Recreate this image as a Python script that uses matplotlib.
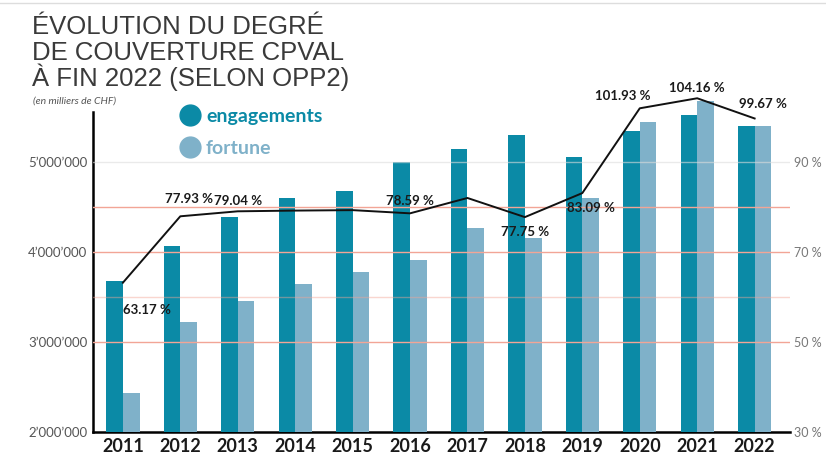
import matplotlib
matplotlib.use("Agg")
import matplotlib.pyplot as plt
import numpy as np
from matplotlib.ticker import FuncFormatter
from matplotlib.lines import Line2D

years = ["2011", "2012", "2013", "2014", "2015", "2016", "2017", "2018", "2019", "2020", "2021", "2022"]
engagements = [3678000, 4067000, 4389000, 4600000, 4678000, 5000000, 5144000, 5300000, 5056000, 5344000, 5522000, 5400000]
fortune = [2433000, 3222000, 3456000, 3644000, 3778000, 3911000, 4267000, 4156000, 4600000, 5444000, 5678000, 5400000]
couverture = [63.17, 77.93, 79.04, 79.2, 79.3, 78.59, 82.0, 77.75, 83.09, 101.93, 104.16, 99.67]
labels = ["63.17 %", "77.93 %", "79.04 %", None, None, "78.59 %", None, "77.75 %", "83.09 %", "101.93 %", "104.16 %", "99.67 %"]
left_ticks = [2000000, 3000000, 4000000, 5000000]
right_ticks = [30, 50, 70, 90]
BASE = 2000000

DARK = "#0b8aa6"
LIGHT = "#7fb1c9"
GRID = "#f2a596"
FONT = "Lato"

fig = plt.figure(figsize=(8.26, 4.65), dpi=100)
ax = fig.add_axes([0.1126, 0.071, 0.8434, 0.714])
ax2 = ax.twinx()

x = np.arange(len(years))
w = 0.29
ax.bar(x - w / 2, [v - BASE for v in engagements], bottom=BASE, width=w, color=DARK, zorder=3, clip_on=False)
ax.bar(x + w / 2, [v - BASE for v in fortune], bottom=BASE, width=w, color=LIGHT, zorder=3, clip_on=False)

ax.set_ylim(BASE, 5689000)
ax.set_xlim(-0.52, 11.61)
ax2.set_ylim(30, 103.78)

# horizontal guide lines
for val, col, a in [(50, GRID, 1.0), (60, GRID, 0.45), (70, GRID, 1.0), (80, GRID, 1.0), (90, "#dddddd", 0.6)]:
    ax2.axhline(val, color=col, alpha=a, lw=1.0, zorder=0)
ax2.set_zorder(ax.get_zorder() + 1)
ax2.patch.set_visible(False)
ax.set_axisbelow(True)

ax2.plot(x, couverture, color="#111111", lw=1.4, zorder=5, clip_on=False)

offsets = {
    0: (0.0, -6.0, "left", "center"),
    1: (0.15, 2.5, "center", "bottom"),
    2: (0.0, 1.0, "center", "bottom"),
    5: (0.0, 1.5, "center", "bottom"),
    7: (0.0, -2.0, "center", "top"),
    8: (0.15, -2.0, "center", "top"),
    9: (-0.3, 1.5, "center", "bottom"),
    10: (0.0, 1.0, "center", "bottom"),
    11: (0.15, 1.8, "center", "bottom"),
}
for i, lab in enumerate(labels):
    if lab is None:
        continue
    dx, dy, ha, va = offsets[i]
    ax2.text(x[i] + dx, couverture[i] + dy, lab, ha=ha, va=va, fontsize=9.5,
             fontweight="bold", family=FONT, color="#1a1a1a", zorder=6, clip_on=False)

# spines
for s in ["top", "right"]:
    ax.spines[s].set_visible(False)
    ax2.spines[s].set_visible(False)
ax2.spines["left"].set_visible(False)
ax2.spines["bottom"].set_visible(False)
ax.spines["left"].set_linewidth(1.8)
ax.spines["bottom"].set_linewidth(1.8)
ax.spines["left"].set_bounds(BASE, 5550000)

ax.set_yticks(left_ticks)
ax.yaxis.set_major_formatter(FuncFormatter(lambda v, p: f"{int(v):,}".replace(",", "\u2019")))
ax.tick_params(axis="y", length=0, pad=4, labelsize=9.5, labelcolor="#555555")
for t in ax.get_yticklabels():
    t.set_family(FONT)

ax.set_xticks(x)
ax.set_xticklabels(years)
ax.tick_params(axis="x", length=0, pad=4, labelsize=13)
for t in ax.get_xticklabels():
    t.set_family(FONT)
    t.set_fontweight("bold")
    t.set_color("#1a1a1a")

ax2.set_yticks(right_ticks)
ax2.set_yticklabels([f"{v} %" for v in right_ticks])
ax2.tick_params(axis="y", length=0, pad=3, labelsize=9, labelcolor="#777777")
for t in ax2.get_yticklabels():
    t.set_family(FONT)

# title
title_lines = ["ÉVOLUTION DU DEGRÉ", "DE COUVERTURE CPVAL", "À FIN 2022 (SELON OPP2)"]
for k, line in enumerate(title_lines):
    fig.text(32 / 826, 1 - (34 + k * 26) / 465, line, fontsize=18.5, family="Liberation Sans",
             color="#3a3a3a", ha="left", va="baseline")
fig.text(33 / 826, 1 - 101 / 465, "(en milliers de CHF)", fontsize=7.5, style="italic",
         family=FONT, color="#555555", ha="left", va="center")

# legend
fig.add_artist(Line2D([190 / 826], [1 - 115 / 465], transform=fig.transFigure, marker="o",
                      markersize=15, color=DARK, linestyle="none"))
fig.add_artist(Line2D([190 / 826], [1 - 147 / 465], transform=fig.transFigure, marker="o",
                      markersize=15, color=LIGHT, linestyle="none"))
fig.text(206 / 826, 1 - 116 / 465, "engagements", fontsize=14, fontweight="bold", family=FONT,
         color=DARK, ha="left", va="center")
fig.text(206 / 826, 1 - 148 / 465, "fortune", fontsize=14, fontweight="bold", family=FONT,
         color=LIGHT, ha="left", va="center")

fig.add_artist(Line2D([0, 1], [1 - 3 / 465, 1 - 3 / 465], transform=fig.transFigure,
                      color="#dddddd", lw=1))

fig.savefig("out.png", dpi=100)
